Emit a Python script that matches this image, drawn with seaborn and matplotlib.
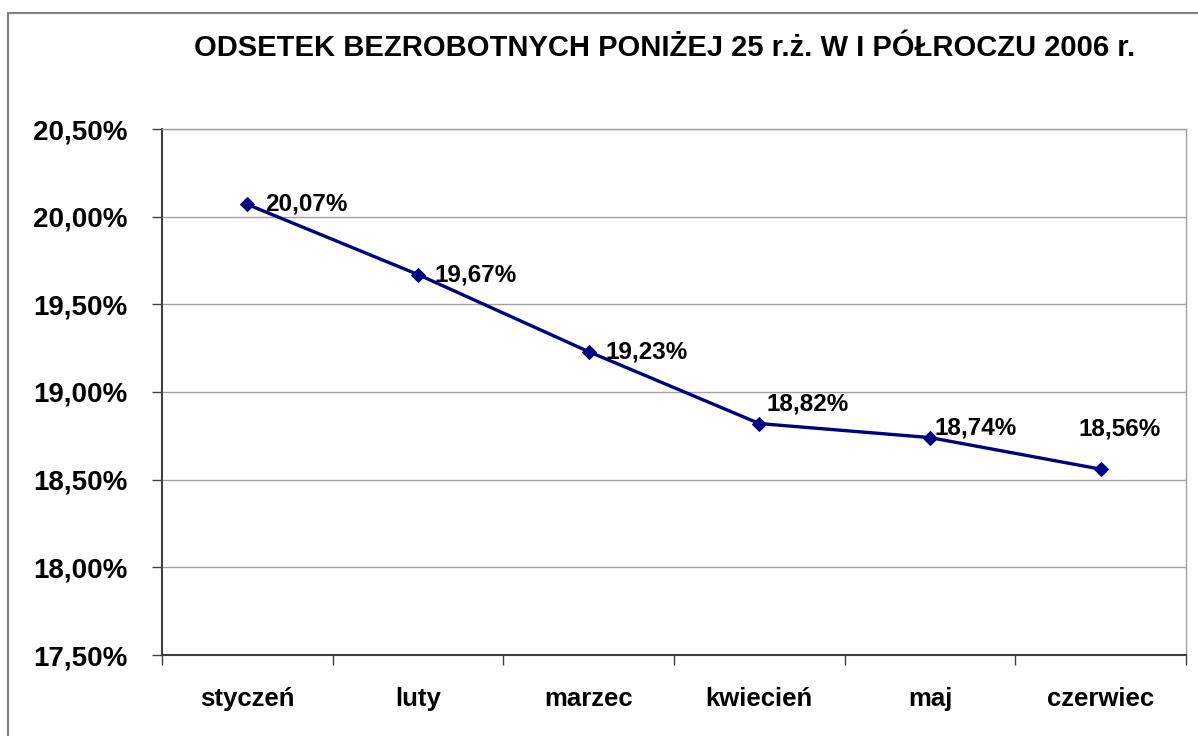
import pandas as pd
import matplotlib.pyplot as plt
import seaborn as sns
from matplotlib.patches import Rectangle

months = ['styczeń', 'luty', 'marzec', 'kwiecień', 'maj', 'czerwiec']
values = [20.07, 19.67, 19.23, 18.82, 18.74, 18.56]
labels = ['20,07%', '19,67%', '19,23%', '18,82%', '18,74%', '18,56%']
y_ticks = [17.5, 18.0, 18.5, 19.0, 19.5, 20.0, 20.5]

data = pd.DataFrame({'month': months, 'value': values})
data['pos'] = range(len(months))

sns.set_style("white")
plt.rcParams['font.family'] = ['Liberation Sans', 'DejaVu Sans']
plt.rcParams['font.weight'] = 'bold'
plt.rcParams['text.color'] = 'black'
plt.rcParams['xtick.color'] = 'black'
plt.rcParams['ytick.color'] = 'black'

fig = plt.figure(figsize=(11.98, 7.36), dpi=100)
ax = fig.add_axes([162/1198, 1 - 655/736, (1186 - 162)/1198, (655 - 129)/736])

# outer frame of the chart
fig.patches.append(Rectangle((8/1198, -0.05), 1.2, 1 - 13/736 + 0.05, transform=fig.transFigure,
                             fill=False, edgecolor='#808080', linewidth=1.5))

sns.lineplot(x='pos', y='value', data=data, ax=ax, color='#000080', linewidth=2.4,
             marker='D', markersize=7, markeredgecolor='#000080')

# label offsets in points (dx, dy, ha)
offsets = [(13, 0, 'left'), (12, 0, 'left'), (12, 0, 'left'), (5, 14, 'left'), (3, 7, 'left'), (14, 29, 'center')]
for x, y, lab, (dx, dy, ha) in zip(data['pos'], values, labels, offsets):
    ax.annotate(lab, (x, y), xytext=(dx, dy), textcoords='offset points',
                ha=ha, va='center', fontsize=17.5, fontweight='bold', color='black')

ax.set_xlim(-0.5, len(months) - 0.5)
ax.set_ylim(17.5, 20.5)
ax.set_yticks(y_ticks)
ax.set_yticklabels([f'{t:.2f}%'.replace('.', ',') for t in y_ticks], fontsize=20, fontweight='bold')
ax.set_xticks(range(len(months)))
ax.set_xticklabels(months, fontsize=18.5, fontweight='bold')
ax.set_xticks([i - 0.5 for i in range(len(months) + 1)], minor=True)
ax.tick_params(axis='x', which='major', length=0, pad=23, bottom=True)
ax.tick_params(axis='x', which='minor', length=7, width=1, color='#404040', direction='out', bottom=True)
ax.tick_params(axis='y', length=7, width=1, color='#404040', direction='out', left=True, pad=18)

ax.grid(axis='y', color='#a0a0a0', linewidth=1)
ax.set_axisbelow(True)
for side in ['top', 'right']:
    ax.spines[side].set_color('#a0a0a0')
    ax.spines[side].set_linewidth(1)
for side in ['left', 'bottom']:
    ax.spines[side].set_color('#404040')
    ax.spines[side].set_linewidth(1.5)

ax.set_xlabel('')
ax.set_ylabel('')

fig.text(665/1198, 1 - 48/736, 'ODSETEK BEZROBOTNYCH PONIŻEJ 25 r.ż. W I PÓŁROCZU 2006 r.',
         ha='center', va='center', fontsize=21, fontweight='bold')

plt.savefig('out.png', dpi=100)
